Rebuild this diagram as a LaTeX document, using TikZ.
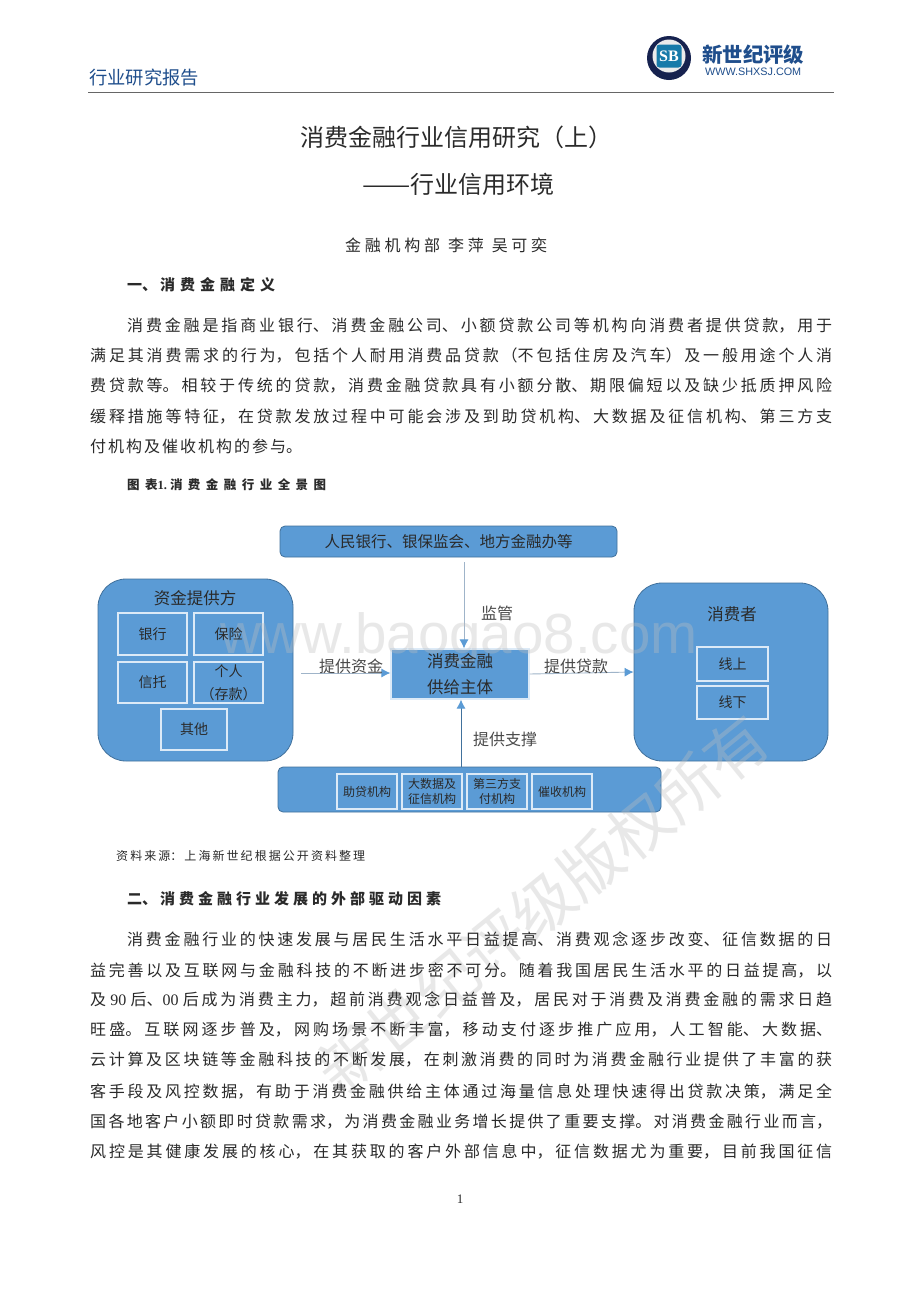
\documentclass[tikz,border=0pt]{standalone}
\usepackage{fontspec}
\usepackage{graphicx}
\usetikzlibrary{arrows.meta}
\setmainfont{Noto Sans CJK SC}
\newfontfamily\ltn{Liberation Serif}
\newfontfamily\lsans{Liberation Sans}
\XeTeXlinebreaklocale "zh"
\XeTeXlinebreakskip=0pt plus 8pt
\definecolor{boxblue}{HTML}{5B9BD5}
\definecolor{boxedge}{HTML}{41719C}
\definecolor{inneredge}{HTML}{DCEAF7}
\definecolor{inktext}{HTML}{2A2A2A}
\definecolor{headblue}{HTML}{1F4E8C}
\definecolor{logonavy}{HTML}{16224F}
\definecolor{arrowgray}{HTML}{9FB4C9}
\newcounter{jlc}
\tikzset{
  x=1pt,y=-1pt,
  outerbox/.style={draw=boxedge,fill=boxblue,line width=.8pt,inner sep=0pt,rounded corners=28pt},
  barbox/.style={draw=boxedge,fill=boxblue,line width=.8pt,inner sep=0pt,rounded corners=5pt},
  innerbox/.style={draw=inneredge,fill=boxblue,line width=1.2pt,inner sep=0pt},
  corebox/.style={innerbox},
  bartext/.style={inner sep=0pt,text=inktext,font=\fontsize{15.5}{18}\selectfont},
  innertext/.style={inner sep=0pt,text=inktext,align=center,font=\fontsize{14}{23}\selectfont},
  smalltext/.style={innertext,font=\fontsize{12}{15.5}\selectfont},
  coretext/.style={innertext,font=\fontsize{16.5}{26}\selectfont},
  boxtitle/.style={inner sep=0pt,text=inktext,font=\fontsize{16.5}{20}\selectfont},
  edgelabel/.style={inner sep=0pt,text=inktext!85,font=\fontsize{16}{20}\selectfont},
  flow/.style={line width=.9pt,draw=arrowgray,-{Latex[length=9pt,width=9pt,color=boxblue]}},
  bodyline/.style={anchor=base west,inner sep=0pt,text=inktext},
  plainline/.style={inner sep=0pt,text=inktext},
  watermark/.style={inner sep=0pt,opacity=.35,text=black!25},
}
\newcommand\bx[7][]{%
  \node[#2,#1,minimum width={(#5-#3)*1pt},minimum height={(#6-#4)*1pt}] (#7) at ({(#3+#5)/2},{(#4+#6)/2})}
% a line of text spread to a given width: [size]{x}{baseline y}{width}{text}
\newcommand\jl[5][\fontsize{16}{18}\selectfont]{%
  \stepcounter{jlc}%
  \node[bodyline] (line\thejlc) at (#2,#3) {\parbox[b]{#4pt}{#1\parindent=0pt\leftskip=0pt\rightskip=0pt\parfillskip=0pt\tolerance=10000\hbadness=10000\hfuzz=20pt\emergencystretch=0pt #5\par}};}
\begin{document}
\begin{tikzpicture}
\useasboundingbox (0,0) rectangle (920,1302);
\fill[white] (0,0) rectangle (920,1302);
% diagram shapes
\bx{barbox}{280}{526}{617}{557}{reg} {};
\bx{outerbox}{98}{579}{293}{761}{src} {};
\bx{innerbox}{118}{613}{187}{655}{bank} {};
\bx{innerbox}{194}{613}{263}{655}{ins} {};
\bx{innerbox}{118}{662}{187}{703}{trust} {};
\bx{innerbox}{194}{662}{263}{703}{pers} {};
\bx{innerbox}{161}{709}{227}{750}{other} {};
\bx{corebox}{391}{649}{529}{699}{core} {};
\bx{outerbox}{634}{583}{828}{761}{cons} {};
\bx{innerbox}{697}{647}{768}{681}{online} {};
\bx{innerbox}{697}{686}{768}{719}{offline} {};
\bx{barbox}{278}{767}{661}{812}{sup} {};
\bx{innerbox}{337}{774}{397}{809}{helper} {};
\bx{innerbox}{402}{774}{462}{809}{bigdata} {};
\bx{innerbox}{467}{774}{527}{809}{pay} {};
\bx{innerbox}{532}{774}{592}{809}{collect} {};
\coordinate (regOut) at (464,562);
\coordinate (srcOut) at (301,673);
\coordinate (supOut) at (461,767);
\draw[flow] (regOut) -- (regOut |- core.north);
\draw[flow] (srcOut) -- (srcOut -| core.west);
\draw[flow] (core.east) -- (cons.west);
\draw[flow,draw=boxedge] (supOut) -- (supOut |- core.south);
% watermarks
\node[watermark,anchor=base west,font=\lsans\fontsize{56.5}{60}\selectfont] (wmUrl) at (220,653) {www.baogao8.com};
\node[watermark,rotate=39,font=\fontsize{62}{66}\selectfont] (wmCn) at (543,905) {新世纪评级版权所有};
% diagram text
\node[bartext] (regT) at (reg) {人民银行、银保监会、地方金融办等};
\node[boxtitle] (srcT) at (195,598) {资金提供方};
\node[innertext] (bankT) at (bank) {银行};
\node[innertext] (insT) at (ins) {保险};
\node[innertext] (trustT) at (trust) {信托};
\node[innertext] (persT) at (pers) {个人\\（存款）};
\node[innertext] (otherT) at (other) {其他};
\node[coretext] (coreT) at (core) {消费金融\\供给主体};
\node[boxtitle] (consT) at (732,614) {消费者};
\node[innertext] (onlineT) at (online) {线上};
\node[innertext] (offlineT) at (offline) {线下};
\node[smalltext] (helperT) at (helper) {助贷机构};
\node[smalltext] (bigdataT) at (bigdata) {大数据及\\征信机构};
\node[smalltext] (payT) at (pay) {第三方支\\付机构};
\node[smalltext] (collectT) at (collect) {催收机构};
\node[edgelabel] (lbReg) at (497,613) {监管};
\node[edgelabel] (lbSrc) at (351,666) {提供资金};
\node[edgelabel] (lbLoan) at (576,666) {提供贷款};
\node[edgelabel] (lbSup) at (505,739) {提供支撑};
% header
\node[plainline,anchor=base west,text=headblue,font=\fontsize{18.3}{20}\selectfont] (hdr) at (89,84) {行业研究报告};
\coordinate (ruleL) at (88,92);
\coordinate (ruleR) at (834,92);
\draw[line width=1pt,draw=black!60] (ruleL) -- (ruleR);
% logo
\node[circle,fill=logonavy,minimum size=44pt,inner sep=0pt] (logoDisc) at (669,58) {};
\node[circle,fill=black!8,minimum size=33pt,inner sep=0pt] (logoRing) at (669,56) {};
\node[rounded corners=3pt,fill=headblue!75!cyan,minimum width=25pt,minimum height=23pt,inner sep=0pt,text=white,font=\ltn\bfseries\fontsize{16}{18}\selectfont] (logoSq) at (669,56) {SB};
\node[plainline,anchor=base west,text=headblue,font=\bfseries\fontsize{20.4}{22}\selectfont] (logoCn) at (702,62) {新世纪评级};
\node[plainline,anchor=base west,text=headblue,font=\lsans\fontsize{10.8}{12}\selectfont] (logoEn) at (705,75) {WWW.SHXSJ.COM};
% title
\node[plainline,anchor=base west,font=\fontsize{24}{26}\selectfont] (title1) at (300,146) {消费金融行业信用研究（上）};
\node[plainline,anchor=base west,font=\fontsize{24}{26}\selectfont] (title2) at (362,193) {\scalebox{1.2}[1]{——}行业信用环境};
\jl{345}{251}{202}{金融机构部\hspace{8pt}李萍\hspace{8pt}吴可奕}
\jl[\bfseries\fontsize{15}{18}\selectfont]{127}{290}{148}{一、\hspace{3pt}消费金融定义}
\jl{127}{331}{705}{消费金融是指商业银行、消费金融公司、小额贷款公司等机构向消费者提供贷款，用于}
\jl{90}{361}{742}{满足其消费需求的行为，包括个人耐用消费品贷款（不包括住房及汽车）及一般用途个人消}
\jl{90}{391}{742}{费贷款等。相较于传统的贷款，消费金融贷款具有小额分散、期限偏短以及缺少抵质押风险}
\jl{90}{422}{742}{缓释措施等特征，在贷款发放过程中可能会涉及到助贷机构、大数据及征信机构、第三方支}
\jl{90}{452}{212}{付机构及催收机构的参与。}
\jl[\bfseries\fontsize{12.5}{15}\selectfont]{127}{489}{199}{图表{\ltn 1.}\hspace{3pt}消费金融行业全景图}
\jl[\fontsize{12}{15}\selectfont]{116}{860}{249}{资料来源：上海新世纪根据公开资料整理}
\jl[\bfseries\fontsize{15}{18}\selectfont]{127}{904}{314}{二、\hspace{3pt}消费金融行业发展的外部驱动因素}
\jl{127}{945}{705}{消费金融行业的快速发展与居民生活水平日益提高、消费观念逐步改变、征信数据的日}
\jl{90}{976}{742}{益完善以及互联网与金融科技的不断进步密不可分。随着我国居民生活水平的日益提高，以}
\jl{90}{1005}{742}{及 {\ltn 90} 后、{\ltn 00} 后成为消费主力，超前消费观念日益普及，居民对于消费及消费金融的需求日趋}
\jl{90}{1035}{742}{旺盛。互联网逐步普及，网购场景不断丰富，移动支付逐步推广应用，人工智能、大数据、}
\jl{90}{1065}{742}{云计算及区块链等金融科技的不断发展，在刺激消费的同时为消费金融行业提供了丰富的获}
\jl{90}{1097}{742}{客手段及风控数据，有助于消费金融供给主体通过海量信息处理快速得出贷款决策，满足全}
\jl{90}{1127}{742}{国各地客户小额即时贷款需求，为消费金融业务增长提供了重要支撑。对消费金融行业而言，}
\jl{90}{1157}{742}{风控是其健康发展的核心，在其获取的客户外部信息中，征信数据尤为重要，目前我国征信}
\node[plainline,font=\ltn\fontsize{13}{14}\selectfont] (pageNo) at (460,1199) {1};
\end{tikzpicture}
\end{document}
